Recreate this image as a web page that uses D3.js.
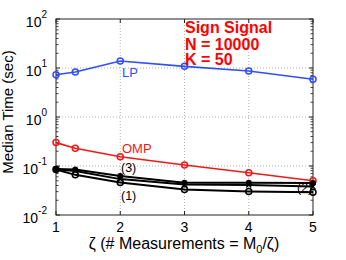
<!DOCTYPE html>
<html><head><meta charset="utf-8">
<script src="https://cdn.jsdelivr.net/npm/d3@7"></script>
<style>body{margin:0;background:#fff}text{font-family:"Liberation Sans",Arial,sans-serif}</style>
</head><body><svg id="c" width="346" height="260"></svg>
<script>
const zeta = [1, 1.3, 2, 3, 4, 5];
const lp   = [7.3, 8.3, 13.9, 10.8, 8.7, 5.9];
const omp  = [0.30, 0.23, 0.155, 0.105, 0.073, 0.050];
const s1   = [0.085, 0.066, 0.046, 0.033, 0.030, 0.029];
const s2   = [0.086, 0.079, 0.054, 0.042, 0.041, 0.038];
const s3   = [0.087, 0.085, 0.0625, 0.0456, 0.0456, 0.045];
const xTicks = [1, 2, 3, 4, 5];
const yTicks = [0.01, 0.1, 1, 10, 100];
const yExp = ["-2", "-1", "0", "1", "2"];
const infoLines = ["Sign Signal", "N = 10000", "K = 50"];

const svg = d3.select("#c");
const L = 56, R = 313, T = 19, B = 215;
const x = d3.scaleLinear().domain([1, 5]).range([L, R]);
const y = d3.scaleLog().domain([0.01, 100]).range([B, T]);

// grid
const g = svg.append("g");
xTicks.slice(1, -1).forEach(v => g.append("line").attr("x1", x(v)).attr("x2", x(v)).attr("y1", T).attr("y2", B)
  .attr("stroke", "#b0b0b0").attr("stroke-dasharray", "1,2"));
yTicks.slice(1, -1).forEach(v => g.append("line").attr("x1", L).attr("x2", R).attr("y1", y(v)).attr("y2", y(v))
  .attr("stroke", "#b0b0b0").attr("stroke-dasharray", "1,2"));

// axes with ticks inside
const ax = svg.append("g");
const minor = [];
for (let d = 0.01; d < 100; d *= 10) for (let k = 2; k <= 9; k++) minor.push(d * k);
minor.forEach(v => {
  ax.append("line").attr("x1", L).attr("x2", L + 2.5).attr("y1", y(v)).attr("y2", y(v)).attr("stroke", "#444");
  ax.append("line").attr("x1", R).attr("x2", R - 2.5).attr("y1", y(v)).attr("y2", y(v)).attr("stroke", "#444");
});
yTicks.forEach(v => {
  ax.append("line").attr("x1", L).attr("x2", L + 4).attr("y1", y(v)).attr("y2", y(v)).attr("stroke", "#222");
  ax.append("line").attr("x1", R).attr("x2", R - 4).attr("y1", y(v)).attr("y2", y(v)).attr("stroke", "#222");
});
xTicks.forEach(v => {
  ax.append("line").attr("x1", x(v)).attr("x2", x(v)).attr("y1", B).attr("y2", B - 4).attr("stroke", "#222");
  ax.append("line").attr("x1", x(v)).attr("x2", x(v)).attr("y1", T).attr("y2", T + 4).attr("stroke", "#222");
});
ax.append("rect").attr("x", L).attr("y", T).attr("width", R - L).attr("height", B - T)
  .attr("fill", "none").attr("stroke", "#222").attr("stroke-width", 1);

// tick labels
yTicks.forEach((v, i) => {
  const t = svg.append("text").attr("x", 47).attr("y", y(v) + 8).attr("text-anchor", "end")
    .attr("font-size", 14).attr("fill", "#000");
  t.append("tspan").text("10");
  t.append("tspan").attr("dy", -9).attr("font-size", 10).text(yExp[i]);
});
xTicks.forEach(v => svg.append("text").attr("x", x(v)).attr("y", 232).attr("text-anchor", "middle")
  .attr("font-size", 14).text(v));

// axis titles
const xl = svg.append("text").attr("x", 184).attr("y", 249).attr("text-anchor", "middle").attr("font-size", 16);
xl.append("tspan").text("ζ (# Measurements = M");
xl.append("tspan").attr("dy", 4).attr("font-size", 11).text("0");
xl.append("tspan").attr("dy", -4).text("/ζ)");
svg.append("text").attr("transform", "translate(13," + 112 + ") rotate(-90)").attr("text-anchor", "middle")
  .attr("font-size", 15).text("Median Time (sec)");

// series
const line = d3.line().x((d, i) => x(zeta[i])).y(d => y(d));
const series = [
  {v: lp, c: "#2f4ff5", w: 1.6, m: "open"},
  {v: omp, c: "#f01818", w: 1.6, m: "open"},
  {v: s1, c: "#000", w: 2, m: "open"},
  {v: s2, c: "#000", w: 2, m: "x"},
  {v: s3, c: "#000", w: 2, m: "dot"}
];
series.forEach(s => {
  svg.append("path").attr("d", line(s.v)).attr("fill", "none").attr("stroke", s.c).attr("stroke-width", s.w);
  s.v.forEach((d, i) => {
    const cx = x(zeta[i]), cy = y(d);
    if (s.m === "open") svg.append("circle").attr("cx", cx).attr("cy", cy).attr("r", 3)
      .attr("fill", "none").attr("stroke", s.c).attr("stroke-width", 1.5);
    else if (s.m === "dot") svg.append("circle").attr("cx", cx).attr("cy", cy).attr("r", 3).attr("fill", s.c);
    else svg.append("path").attr("d", `M${cx-2.5},${cy-2.5}L${cx+2.5},${cy+2.5}M${cx-2.5},${cy+2.5}L${cx+2.5},${cy-2.5}`)
      .attr("stroke", s.c).attr("stroke-width", 1.3);
  });
});

// labels
svg.append("text").attr("x", 122).attr("y", 77).attr("font-size", 13).attr("fill", "#2f4ff5").text("LP");
svg.append("text").attr("x", 122).attr("y", 153).attr("font-size", 13).attr("fill", "#f01818").text("OMP");
svg.append("text").attr("x", 121).attr("y", 172).attr("font-size", 12.5).text("(3)");
svg.append("text").attr("x", 121).attr("y", 200).attr("font-size", 12.5).text("(1)");
svg.append("text").attr("x", 297).attr("y", 192).attr("font-size", 12.5).text("(2)");

const by = [33, 50, 65];
infoLines.forEach((t, i) => svg.append("text").attr("x", 185).attr("y", by[i]).attr("font-size", 16)
  .attr("font-weight", "bold").attr("fill", "#ff0000").text(t));
</script></body></html>
